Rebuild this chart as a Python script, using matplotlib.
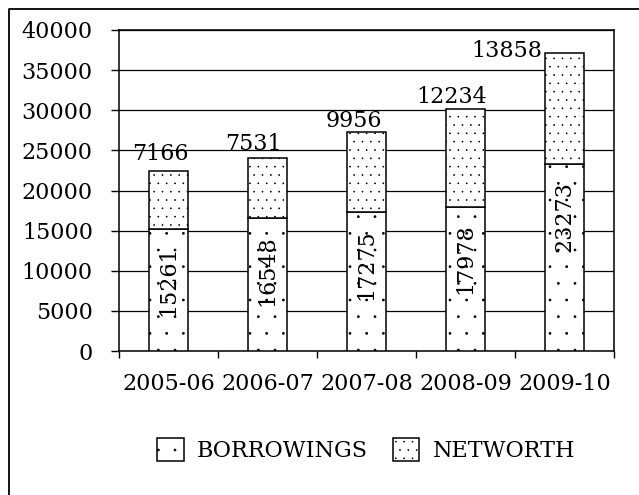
import numpy as np
import matplotlib
matplotlib.use("Agg")
import matplotlib.pyplot as plt
from matplotlib import hatch as mhatch
from matplotlib.lines import Line2D

years = ["2005-06", "2006-07", "2007-08", "2008-09", "2009-10"]
borrowings = [15261, 16548, 17275, 17978, 23273]
networth = [7166, 7531, 9956, 12234, 13858]
y_ticks = [0, 5000, 10000, 15000, 20000, 25000, 30000, 35000, 40000]

plt.rcParams['font.family'] = ['DejaVu Serif']
plt.rcParams['font.size'] = 16
plt.rcParams['hatch.linewidth'] = 0.5
# smaller dots for the '.' hatch, closer to the dotted fills of the original
mhatch.SmallFilledCircles.size = 0.06

fig = plt.figure(figsize=(6.39, 4.95), dpi=100)
ax = fig.add_axes([0.1862, 0.2909, 0.7746, 0.6485])

x = np.arange(len(years))
width = 0.4
b1 = ax.bar(x, borrowings, width, color='white', edgecolor='black',
            linewidth=1.1, hatch='.', label='BORROWINGS', zorder=3)
b2 = ax.bar(x, networth, width, bottom=borrowings, color='white',
            edgecolor='black', linewidth=1.1, hatch='..', label='NETWORTH',
            zorder=3)

# value labels
for xi, b in zip(x, borrowings):
    ax.annotate(str(b), (xi, b), xytext=(0, -17), textcoords='offset pixels',
                rotation=90, ha='center', va='top', zorder=4)

nw_offsets = [(-8, 11), (-14, 8), (-13, 5), (-14, 6), (-58, -4)]
for xi, b, n, off in zip(x, borrowings, networth, nw_offsets):
    ax.annotate(str(n), (xi, b + n), xytext=off, textcoords='offset pixels',
                ha='center', va='baseline', zorder=4)

ax.set_xlim(-0.5, len(years) - 0.5)
ax.set_ylim(0, 40000)
ax.set_yticks(y_ticks)
ax.yaxis.grid(True, color='black', linewidth=0.9, zorder=0)
ax.set_axisbelow(True)

ax.set_xticks(x)
ax.set_xticklabels(years)
ax.set_xticks(np.arange(len(years) + 1) - 0.5, minor=True)
ax.tick_params(axis='x', which='major', length=0, pad=16)
ax.tick_params(axis='x', which='minor', length=5, width=1, direction='out')
ax.tick_params(axis='y', length=5.8, width=1, direction='out', pad=13)

for s in ax.spines.values():
    s.set_linewidth(1.1)
    s.set_color('black')

fig.legend(handles=[b1, b2], loc='center', bbox_to_anchor=(0.573, 0.091),
           ncol=2, frameon=False, handlelength=1.2, handleheight=1.2,
           handletextpad=0.6, columnspacing=1.1)

# outer frame (only left and top edges show in the picture)
fig.add_artist(Line2D([9 / 639, 9 / 639, 1.0], [0.0, 1 - 9 / 495, 1 - 9 / 495],
                      transform=fig.transFigure, color='black', linewidth=1.3))

fig.savefig("out.png", dpi=100)
